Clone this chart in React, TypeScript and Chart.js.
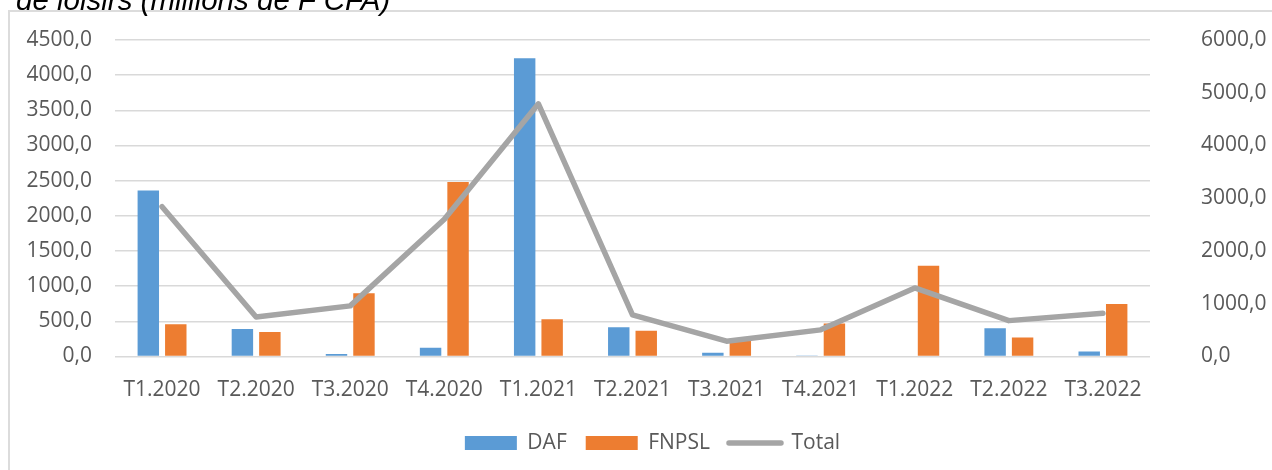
import React, { useEffect, useRef } from "react";
import { Chart, registerables } from "chart.js";

Chart.register(...registerables);

const categories = ["T1.2020", "T2.2020", "T3.2020", "T4.2020", "T1.2021", "T2.2021", "T3.2021", "T4.2021", "T1.2022", "T2.2022", "T3.2022"];
const dafValues = [2360, 390, 35, 125, 4240, 415, 55, 15, 0, 400, 70];
const fnpslValues = [460, 350, 900, 2480, 530, 365, 225, 470, 1290, 270, 745];
const totalValues = [2840, 750, 960, 2600, 4790, 790, 290, 505, 1300, 680, 820];
const titleText = "de loisirs (millions de F CFA)";

const BLUE = "#5B9BD5";
const ORANGE = "#ED7D31";
const GRAY = "#A5A5A5";
const TEXT = "#595959";
const GRID = "#D9D9D9";

const fmt = (v: number) => Number(v).toFixed(1).replace(".", ",");

const legendShift = {
  id: "legendShift",
  afterLayout(chart: any) {
    if (chart.legend) chart.legend.left += 33;
  },
};

export default function App() {
  const ref = useRef<HTMLCanvasElement | null>(null);

  useEffect(() => {
    const canvas = ref.current;
    if (!canvas) return;
    const font = { family: "'Open Sans'", size: 21 };
    const chart = new Chart(canvas, {
      type: "bar",
      plugins: [legendShift],
      data: {
        labels: categories,
        datasets: [
          {
            type: "bar",
            label: "DAF",
            data: dafValues,
            backgroundColor: BLUE,
            yAxisID: "y",
            order: 0,
            categoryPercentage: 0.584,
            barPercentage: 0.78,
          },
          {
            type: "bar",
            label: "FNPSL",
            data: fnpslValues,
            backgroundColor: ORANGE,
            yAxisID: "y",
            order: 0,
            categoryPercentage: 0.584,
            barPercentage: 0.78,
          },
          {
            type: "line",
            label: "Total",
            data: totalValues,
            borderColor: GRAY,
            backgroundColor: GRAY,
            borderWidth: 5.5,
            pointRadius: 0,
            pointHoverRadius: 0,
            tension: 0,
            borderJoinStyle: "round",
            borderCapStyle: "round",
            yAxisID: "y1",
            order: -1,
          },
        ],
      },
      options: {
        responsive: false,
        animation: false,
        devicePixelRatio: 1,
        layout: { padding: { top: 40, bottom: 6.5, left: 0, right: 0 } },
        plugins: {
          tooltip: { enabled: false },
          title: { display: false },
          legend: {
            position: "bottom",
            labels: {
              font,
              color: TEXT,
              usePointStyle: true,
              pointStyleWidth: 52,
              boxHeight: 14,
              padding: 19,
              generateLabels: (c: any) =>
                c.data.datasets.map((ds: any, i: number) => ({
                  text: ds.label,
                  datasetIndex: i,
                  hidden: false,
                  fontColor: TEXT,
                  fillStyle: i < 2 ? ds.backgroundColor : "rgba(0,0,0,0)",
                  strokeStyle: i < 2 ? ds.backgroundColor : GRAY,
                  lineWidth: i < 2 ? 0 : 5.5,
                  lineCap: "round",
                  pointStyle: i < 2 ? "rect" : "line",
                })),
            },
          },
        },
        scales: {
          x: {
            type: "category",
            grid: { display: false, drawTicks: false },
            border: { display: false },
            ticks: { font, color: TEXT, padding: 21, maxRotation: 0, autoSkip: false },
            afterFit: (a: any) => {
              a.height = 57;
              a.paddingLeft = 0;
              a.paddingRight = 0;
            },
          },
          y: {
            position: "left",
            min: 0,
            max: 4500,
            grid: { color: GRID, lineWidth: 1.5, drawTicks: false },
            border: { display: false },
            ticks: { font, color: TEXT, padding: 23, stepSize: 500, callback: (v: any) => fmt(v) },
            afterFit: (a: any) => {
              a.width = 115;
              a.paddingTop = 0;
              a.paddingBottom = 0;
            },
          },
          y1: {
            position: "right",
            min: 0,
            max: 6000,
            grid: { drawOnChartArea: false, drawTicks: false },
            border: { display: false },
            ticks: { font, color: TEXT, padding: 51, stepSize: 1000, callback: (v: any) => fmt(v) },
            afterFit: (a: any) => {
              a.width = 122;
              a.paddingTop = 0;
              a.paddingBottom = 0;
            },
          },
        },
      },
    } as any);
    return () => chart.destroy();
  }, []);

  return (
    <>
      <div
        style={{
          position: "fixed",
          left: 8,
          top: 10,
          width: 1264,
          height: 460,
          borderTop: "2px solid #DCDCDC",
          borderLeft: "2px solid #DCDCDC",
          boxSizing: "border-box",
          background: "#fff",
        }}
      />
      <canvas
        ref={ref}
        width={1272}
        height={470}
        style={{ position: "fixed", left: 0, top: 0, width: 1272, height: 470 }}
      />
      <div
        style={{
          position: "fixed",
          left: 16,
          top: -15.5,
          fontFamily: "'Liberation Sans', Arial, sans-serif",
          fontStyle: "italic",
          fontSize: 29.5,
          lineHeight: "29px",
          color: "#000",
          whiteSpace: "nowrap",
        }}
      >
        {titleText}
      </div>
    </>
  );
}
